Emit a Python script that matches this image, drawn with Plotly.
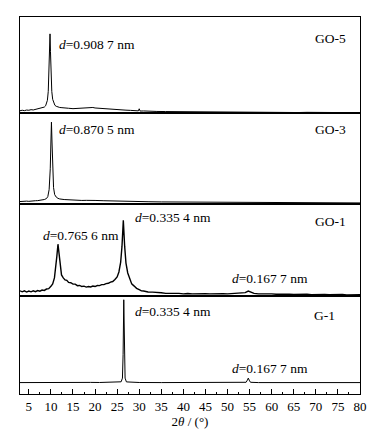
import plotly.graph_objects as go
from plotly.subplots import make_subplots

# 2theta (deg) vs. intensity (a.u.)
GO5 = [(3,2.5),(3.5,3),(4,2.6),(4.5,3.2),(5,3),(5.5,3.6),(6,3.3),(6.5,3.9),(7,4.2),(7.5,4.6),
       (8,5.2),(8.5,6.2),(8.8,7.5),(9.0,9.5),(9.2,13),(9.4,22),(9.55,38),(9.7,62),(9.8,80),(9.9,62),
       (10.05,38),(10.2,22),(10.4,14),(10.6,10.5),(10.9,8),(11.2,7),(11.6,6.2),(12,5.8),(12.5,5.6),
       (13,5.2),(14,5),(15,4.6),(16,4.9),(17,5.2),(18,5.6),(18.5,6),(19,6.2),(19.5,5.8),(20,5.3),
       (21,4.9),(22,4.5),(23,4.1),(24,3.8),(25,3.5),(26,3.3),(27,3.1),(28,2.9),(29,2.6),(29.8,2.4),
       (30,4.5),(30.2,2.2),(31,2.3),(32,2),(34,1.8),(36,1.7),(38,1.6),(40,1.4),(42,1.5),(44,1.2),
       (46,1.3),(48,1.1),(50,1.0),(52,1.2),(54,0.9),(56,1.1),(58,0.8),(60,1),(62,0.8),(64,0.9),
       (66,0.7),(68,0.9),(70,0.7),(72,0.8),(74,0.7),(76,0.8),(78,0.6),(80,0.7)]
GO3 = [(3,2),(3.5,2.3),(4,2),(4.5,2.4),(5,2.2),(5.5,2.6),(6,2.4),(6.5,2.8),(7,2.9),(7.5,3.2),
       (8,3.5),(8.5,4),(9,5),(9.3,7),(9.6,14),(9.85,35),(10.0,62),(10.12,82),(10.25,62),(10.4,35),
       (10.6,16),(10.85,9),(11.2,6.5),(11.6,5.2),(12,4.6),(13,4),(14,3.6),(15,3.4),(16,3.2),(17,3.1),
       (18,3.2),(19,3.3),(20,3.1),(22,2.8),(24,2.5),(26,2.3),(28,2.1),(30,1.9),(32,1.8),(35,1.6),
       (38,1.5),(41,1.3),(44,1.2),(47,1.1),(50,1.1),(53,1),(56,0.9),(59,0.9),(62,0.8),(65,0.8),
       (68,0.7),(71,0.7),(74,0.7),(77,0.6),(80,0.6)]
GO1 = [(3,5),(3.5,4),(4,5),(4.5,3.8),(5,4.8),(5.5,4),(6,5),(6.5,4.2),(7,5.3),(7.5,4.6),
       (8,5.8),(8.5,5.4),(9,6.8),(9.5,7.2),(10,9.5),(10.4,12),(10.8,18),(11.1,28),(11.35,40),(11.6,52),
       (11.85,40),(12.1,28),(12.4,21),(12.8,18),(13.2,16),(13.6,15.5),(14,13.5),(14.5,13.2),(15,11.8),
       (15.5,11.8),(16,10.2),(16.5,10.4),(17,9.3),(17.5,9.7),(18,8.8),(18.5,9.4),(19,8.9),(19.5,9.8),
       (20,9.3),(20.5,10.3),(21,10.2),(21.5,11.2),(22,11.3),(22.5,12.3),(23,12.6),(23.5,13.8),(24,14.4),
       (24.5,16.5),(25,19),(25.4,24),(25.8,34),(26.1,50),(26.4,76),(26.7,50),(27.0,33),(27.4,23),
       (27.8,17),(28.3,12),(28.8,10),(29.4,7.5),(30,6.2),(30.5,5),(31,4.8),(32,3.8),(33,3.7),(34,3),
       (35,3),(36,2.4),(37,2.6),(38,2.1),(39,2.4),(40,1.9),(41,2.3),(42,1.9),(43,2.2),(44,1.8),
       (45,2.1),(46,1.9),(47,2.2),(48,1.8),(49,2.1),(50,1.9),(51,2.3),(52,2.1),(53,2.5),(54,3.2),
       (54.7,4.8),(55.3,3.4),(56,2.4),(57,1.9),(58,2.1),(59,1.6),(60,1.9),(61,1.5),(62,1.8),(63,1.4),
       (64,1.7),(65,1.3),(66,1.6),(67,1.3),(68,1.5),(69,1.2),(70,1.4),(71,1.1),(72,1.4),(73,1.1),
       (74,1.3),(75,1),(76,1.3),(77,0.9),(78,1.2),(79,0.9),(80,1.1)]
G1 = [(3,11.5),(5,11.6),(8,11.5),(10,11.6),(12,11.5),(15,11.7),(17,12.3),(17.5,11.8),(18,12.4),
      (19,11.7),(21,11.6),(23,11.7),(25,11.9),(25.9,12.3),(26.2,16),(26.35,40),(26.5,95),(26.65,40),
      (26.8,16),(27.1,12.2),(28,11.8),(30,11.6),(35,11.5),(40,11.5),(45,11.5),(50,11.5),(53,11.5),
      (54.2,11.8),(54.5,14),(54.7,16),(54.9,14),(55.2,11.8),(57,11.5),(60,11.5),(65,11.5),(70,11.5),
      (75,11.5),(80,11.5)]

series = [("GO-5", GO5), ("GO-3", GO3), ("GO-1", GO1), ("G-1", G1)]
panel_max = [97, 91, 93, 99]
line_w = [1, 1, 1.4, 1]

# annotations: (row, x, y, text, xanchor)
labels = [
    (1, 11.35, 69, "<i>d</i>=0.908 7 nm", "left"),
    (1, 73.3, 75, "GO-5", "center"),
    (2, 11.35, 75, "<i>d</i>=0.870 5 nm", "left"),
    (2, 73.3, 75, "GO-3", "center"),
    (3, 28.6, 79, "<i>d</i>=0.335 4 nm", "left"),
    (3, 7.7, 61, "<i>d</i>=0.765 6 nm", "left"),
    (3, 50.6, 17, "<i>d</i>=0.167 7 nm", "left"),
    (3, 73.3, 75, "GO-1", "center"),
    (4, 28.6, 83, "<i>d</i>=0.335 4 nm", "left"),
    (4, 71.9, 79, "G-1", "center"),
    (4, 50.6, 26, "<i>d</i>=0.167 7 nm", "left"),
]

FONT = "Liberation Serif, Times New Roman, Times, DejaVu Serif, serif"
fig = make_subplots(rows=4, cols=1, shared_xaxes=True, vertical_spacing=0,
                    row_heights=panel_max)

for i, (name, pts) in enumerate(series):
    xs = [p[0] for p in pts]
    ys = [p[1] for p in pts]
    fig.add_trace(go.Scatter(x=xs, y=ys, mode="lines", name=name,
                             line=dict(color="black", width=line_w[i]), showlegend=False),
                  row=i + 1, col=1)
    fig.update_yaxes(range=[0, panel_max[i]], showticklabels=False, ticks="",
                     showgrid=False, zeroline=False, showline=True, mirror=True,
                     linecolor="black", linewidth=1, row=i + 1, col=1)
    fig.update_xaxes(range=[3, 80], showgrid=False, zeroline=False, showline=True,
                     mirror=True, linecolor="black", linewidth=1, ticks="",
                     row=i + 1, col=1)

fig.update_xaxes(row=4, col=1, ticks="inside", ticklen=5, tickcolor="black",
                 tickmode="linear", tick0=5, dtick=5, showticklabels=True,
                 tickfont=dict(family=FONT, size=13, color="black"),
                 minor=dict(ticks="inside", ticklen=2.5, tickcolor="black", dtick=2.5, tick0=0),
                 title=dict(text="2<i>θ</i> / (°)", font=dict(family=FONT, size=13, color="black"),
                            standoff=2))

for row, x, y, text, xa in labels:
    fig.add_annotation(x=x, y=y, xref=f"x{'' if row == 1 else row}",
                       yref=f"y{'' if row == 1 else row}", text=text, showarrow=False,
                       xanchor=xa, yanchor="middle",
                       font=dict(family=FONT, size=13.5, color="black"))

fig.update_layout(width=384, height=425, margin=dict(l=12, r=32, t=8, b=37),
                  font=dict(family=FONT, color="black"),
                  paper_bgcolor="white", plot_bgcolor="white")
fig.write_html("out.html")
